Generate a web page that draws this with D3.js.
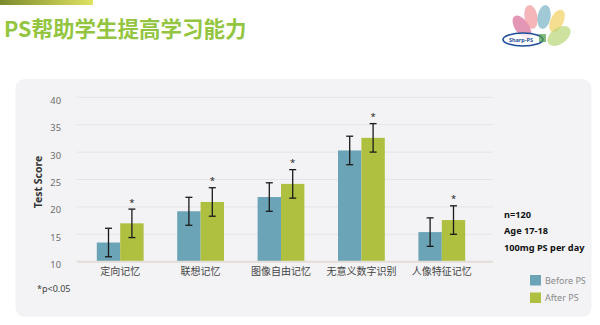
<!DOCTYPE html>
<html>
<head>
<meta charset="utf-8">
<script src="https://cdn.jsdelivr.net/npm/d3@7/dist/d3.min.js"></script>
<style>
  html, body { margin: 0; padding: 0; background: #ffffff; }
  svg { display: block; }
  text { font-family: "Noto Sans", "Open Sans", "Noto Sans CJK SC", sans-serif; }
  .cjk { font-family: "Noto Sans CJK SC", "Noto Sans", sans-serif; }
</style>
</head>
<body>
<svg id="chart" width="600" height="325"></svg>
<script>
// Test scores per memory task, before and after PS supplementation
const categories = ["定向记忆", "联想记忆", "图像自由记忆", "无意义数字识别", "人像特征记忆"];
const beforeValues = [13.5, 19.2, 21.8, 30.3, 15.4];
const afterValues  = [17.0, 20.9, 24.2, 32.6, 17.6];
const beforeErrors = [2.6, 2.55, 2.6, 2.6, 2.6];
const afterErrors  = [2.6, 2.6, 2.6, 2.6, 2.6];
const significant  = [true, true, true, true, true];
const yTicks = [10, 15, 20, 25, 30, 35, 40];
const seriesNames = ["Before PS", "After PS"];
const seriesColors = ["#6aa4b6", "#afc040"];
const studyNotes = ["n=120", "Age 17-18", "100mg PS per day"];

const svg = d3.select("#chart");

// Header: gradient strip and title
const defs = svg.append("defs");
const grad = defs.append("linearGradient").attr("id", "strip").attr("x1", "0").attr("x2", "1");
grad.append("stop").attr("offset", "0").attr("stop-color", "#7b8a2c");
grad.append("stop").attr("offset", "1").attr("stop-color", "#dfe262");
svg.append("rect").attr("x", 0).attr("y", 0).attr("width", 93).attr("height", 5).attr("fill", "url(#strip)");

svg.append("text").attr("class", "cjk")
  .attr("x", 4).attr("y", 37)
  .attr("font-size", 21.5).attr("font-weight", 700)
  .attr("fill", "#93c540")
  .text("PS帮助学生提高学习能力");

// Logo: overlapping petals and an oval badge
const logo = svg.append("g").attr("opacity", 0.8);
const petals = [
  { cx: 522, cy: 27, rx: 7, ry: 13, rot: -35, c: "#d0457f" },
  { cx: 531, cy: 17, rx: 6.5, ry: 12, rot: -10, c: "#ee7f86" },
  { cx: 544, cy: 17, rx: 6.5, ry: 12, rot: 10, c: "#5aa2b8" },
  { cx: 557, cy: 21, rx: 6.5, ry: 12, rot: 25, c: "#f1c43c" },
  { cx: 559, cy: 36, rx: 8, ry: 13, rot: 55, c: "#a9cc55" }
];
logo.selectAll("ellipse.petal").data(petals).join("ellipse")
  .attr("class", "petal")
  .attr("cx", d => d.cx).attr("cy", d => d.cy)
  .attr("rx", d => d.rx).attr("ry", d => d.ry)
  .attr("transform", d => `rotate(${d.rot},${d.cx},${d.cy})`)
  .attr("fill", d => d.c).attr("fill-opacity", 0.7);
svg.append("ellipse").attr("cx", 523).attr("cy", 39.5).attr("rx", 20).attr("ry", 6.5)
  .attr("fill", "#ffffff").attr("fill-opacity", 0.8)
  .attr("stroke", "#1f4f9a").attr("stroke-width", 1.6);
svg.append("text").attr("x", 521).attr("y", 41.5).attr("text-anchor", "middle")
  .attr("font-size", 5.5).attr("font-weight", 700).attr("fill", "#1f4f9a").text("Sharp-PS");
svg.append("rect").attr("x", 539).attr("y", 34).attr("width", 7).attr("height", 8)
  .attr("fill", "#4a9a4a").attr("opacity", 0.7);

// Chart panel
svg.append("rect").attr("x", 15.5).attr("y", 79).attr("width", 576).attr("height", 238)
  .attr("rx", 9).attr("fill", "#f3f3f5");

// Scales
const y = d3.scaleLinear().domain([10, 40]).range([261.7, 97.3]);
const x = d3.scaleBand().domain(categories).range([80, 482]).padding(0);
const barW = 23.4;
const xs = d3.scaleBand().domain(seriesNames)
  .range([x.bandwidth() / 2 - barW, x.bandwidth() / 2 + barW]).padding(0);

const gridX0 = 76.7, gridX1 = 493;

// Gridlines
svg.append("g").selectAll("line").data(yTicks.filter(t => t !== 10)).join("line")
  .attr("x1", gridX0).attr("x2", gridX1)
  .attr("y1", d => y(d)).attr("y2", d => y(d))
  .attr("stroke", "#e6e4e4").attr("stroke-width", 1);

// Y axis tick labels
const yAxis = d3.axisLeft(y).tickValues(yTicks).tickSize(0).tickPadding(0);
const yg = svg.append("g").attr("transform", "translate(61,3)").call(yAxis);
yg.select(".domain").remove();
yg.selectAll("text").attr("font-size", 9.3).attr("fill", "#6b6b6b")
  .attr("font-family", "'Open Sans', 'Noto Sans', sans-serif");

// Y axis title
svg.append("text")
  .attr("transform", "translate(41.5,182) rotate(-90)")
  .attr("text-anchor", "middle")
  .attr("font-size", 10.5).attr("font-weight", 700).attr("fill", "#333333")
  .text("Test Score");

// Bars
const rows = categories.map((c, i) => ({
  cat: c,
  items: [
    { s: seriesNames[0], v: beforeValues[i], e: beforeErrors[i], color: seriesColors[0], star: false },
    { s: seriesNames[1], v: afterValues[i], e: afterErrors[i], color: seriesColors[1], star: significant[i] }
  ]
}));

const groups = svg.append("g").selectAll("g").data(rows).join("g")
  .attr("transform", d => `translate(${x(d.cat)},0)`);

groups.selectAll("rect").data(d => d.items).join("rect")
  .attr("x", d => xs(d.s)).attr("width", xs.bandwidth())
  .attr("y", d => y(d.v)).attr("height", d => y(10) - y(d.v))
  .attr("fill", d => d.color);

// Baseline
svg.append("line").attr("x1", gridX0).attr("x2", gridX1)
  .attr("y1", y(10)).attr("y2", y(10))
  .attr("stroke", "#e3ddd8").attr("stroke-width", 2);

// Error bars
const capW = 3.5;
const eb = groups.selectAll("g.err").data(d => d.items).join("g").attr("class", "err")
  .attr("transform", d => `translate(${xs(d.s) + xs.bandwidth() / 2},0)`);
eb.append("line").attr("x1", 0).attr("x2", 0)
  .attr("y1", d => y(d.v + d.e)).attr("y2", d => y(d.v - d.e))
  .attr("stroke", "#1a1a1a").attr("stroke-width", 1.3);
eb.append("line").attr("x1", -capW).attr("x2", capW)
  .attr("y1", d => y(d.v + d.e)).attr("y2", d => y(d.v + d.e))
  .attr("stroke", "#1a1a1a").attr("stroke-width", 1.3);
eb.append("line").attr("x1", -capW).attr("x2", capW)
  .attr("y1", d => y(d.v - d.e)).attr("y2", d => y(d.v - d.e))
  .attr("stroke", "#1a1a1a").attr("stroke-width", 1.3);
eb.filter(d => d.star).append("text")
  .attr("text-anchor", "middle").attr("y", d => y(d.v + d.e) - 3.5)
  .attr("font-size", 9.5).attr("fill", "#222").text("*");

// Category labels
const xAxis = d3.axisBottom(x).tickSize(0).tickPadding(0);
const xg = svg.append("g").attr("transform", "translate(0,268)").call(xAxis);
xg.select(".domain").remove();
xg.selectAll("text").attr("class", "cjk").attr("font-size", 10).attr("fill", "#444444")
  .attr("font-family", "'Noto Sans CJK SC', sans-serif");

// Significance footnote
svg.append("text").attr("x", 37).attr("y", 291.5)
  .attr("font-size", 9).attr("fill", "#444").text("*p<0.05");

// Study details
svg.selectAll("text.note").data(studyNotes).join("text").attr("class", "note")
  .attr("x", 504).attr("y", (d, i) => 217.5 + i * 16.5)
  .attr("font-size", 9.2).attr("font-weight", 700).attr("fill", "#111").text(d => d);

// Legend
const lg = svg.append("g").selectAll("g").data(seriesNames).join("g")
  .attr("transform", (d, i) => `translate(530,${275 + i * 17.5})`);
lg.append("rect").attr("width", 11).attr("height", 10.5).attr("fill", (d, i) => seriesColors[i]);
lg.append("text").attr("x", 15).attr("y", 8.7).attr("font-size", 9)
  .attr("fill", "#8a8a8a").text(d => d);
</script>
</body>
</html>
